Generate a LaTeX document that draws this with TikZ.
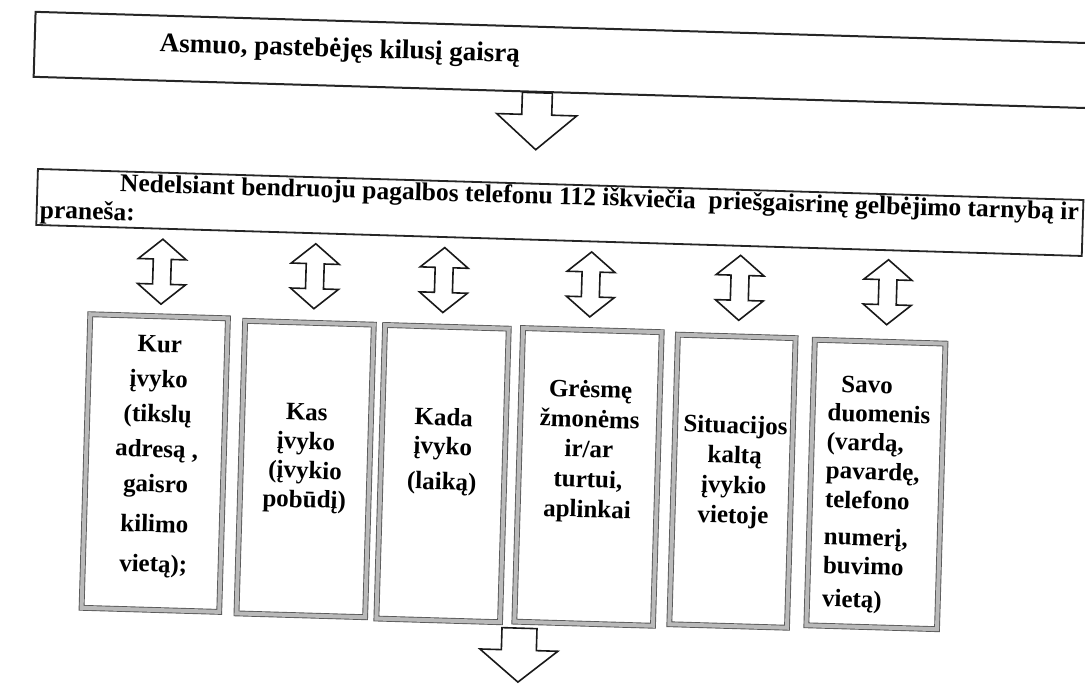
\documentclass[tikz,border=0pt]{standalone}
\usepackage{fontspec}
\setmainfont{Liberation Serif}
\begin{document}
\begin{tikzpicture}[x=1pt,y=-1pt,
  txt/.style={font=\bfseries\fontsize{25}{30}\selectfont, inner sep=0pt, align=center},
  card/.style={draw=black!65, double=gray!55, double distance=4pt, line width=0.9pt, inner sep=0pt, fill=white},
  banner/.style={draw=black!85, line width=2pt, inner sep=0pt, fill=white},
  blk/.style={draw=black!90, line width=1.6pt, fill=white, line join=miter},
  dblarr/.pic={\path[blk] (0,-32.5) -- (24,-12.5) -- (9,-12.5) -- (9,12.5) -- (24,12.5) -- (0,32.5) -- (-24,12.5) -- (-9,12.5) -- (-9,-12.5) -- (-24,-12.5) -- cycle;},
  downarr/.pic={\path[blk] (-15,0) -- (15,0) -- (15,22) -- (40,22) -- (0,57) -- (-40,22) -- (-15,22) -- cycle;},
  downarrb/.pic={\path[blk] (-17.5,0) -- (17.5,0) -- (17.5,22) -- (39,22) -- (0,54) -- (-39,22) -- (-17.5,22) -- cycle;}
]
\useasboundingbox (0,0) rectangle (1085,684);
\fill[white] (0,0) rectangle (1085,684);
\clip (0,0) rectangle (1085,684);
\begin{scope}[rotate around={-1.7:(542,342)}, transform shape]
  % top banner
  \node[banner, minimum width=1084pt, minimum height=65pt] (t) at (568,59.5) {};
  \node[txt, anchor=base west, font=\bfseries\fontsize{27}{30}\selectfont] (tt) at (151,63) {Asmuo, pastebėjęs kilusį gaisrą};
  % header
  \node[banner, line width=1.8pt, minimum width=1046pt, minimum height=56pt] (h) at (556,212) {};
  \node[txt, align=left, anchor=base west, font=\bfseries\fontsize{25.5}{29}\selectfont] (ht) at (36,233) {\hspace*{79.5pt}Nedelsiant bendruoju pagalbos telefonu 112 iškviečia\ \ priešgaisrinę gelbėjimo tarnybą ir\\praneša:};
  % cards
  \node[card, minimum width=137.7pt, minimum height=293.7pt] (b1) at (158.5,474.5) {};
  \node[card, minimum width=128.7pt, minimum height=292.7pt] (b2) at (309,476) {};
  \node[card, minimum width=123.7pt, minimum height=293.7pt] (b3) at (446.5,476.5) {};
  \node[card, minimum width=138.7pt, minimum height=293.7pt] (b4) at (592,475.5) {};
  \node[card, minimum width=117.7pt, minimum height=289.7pt] (b5) at (736.5,475.5) {};
  \node[card, minimum width=130.7pt, minimum height=285.7pt] (b6) at (880,474.5) {};
  % card texts
  \node[txt, font=\bfseries\fontsize{25}{35}\selectfont] (x1) at (160,468) {Kur\\ įvyko\\ (tikslų\\ adresą ,\\ gaisro\\[5pt] kilimo\\[5pt] vietą);};
  \node[txt, font=\bfseries\fontsize{25}{29}\selectfont] (x2) at (309,465.5) {Kas\\ įvyko\\ (įvykio\\ pobūdį)};
  \node[txt, font=\bfseries\fontsize{25}{29}\selectfont] (x3) at (446,454.5) {Kada\\ įvyko\\[6pt] (laiką)};
  \node[txt] (x4) at (592,450) {Grėsmę\\ žmonėms\\ ir/ar\\ turtui,\\ aplinkai};
  \node[txt] (x5) at (738,466.5) {Situacijos\\ kaltą\\ įvykio\\ vietoje};
  \node[txt, align=left, font=\bfseries\fontsize{25}{29}\selectfont] (x6) at (881,485) {\hspace*{13pt}Savo\\ duomenis\\ (vardą,\\ pavardę,\\ telefono\\[8pt] numerį,\\ buvimo\\[4pt] vietą)};
  % arrows
  \pic at (530,93) {downarr};
  \pic at (160,283) {dblarr};
  \pic at (313,283) {dblarr};
  \pic at (442,283) {dblarr};
  \pic at (589,283) {dblarr};
  \pic at (738,282) {dblarr};
  \pic at (886,282) {dblarr};
  \pic at (528,628.7) {downarrb};
\end{scope}
\end{tikzpicture}
\end{document}
